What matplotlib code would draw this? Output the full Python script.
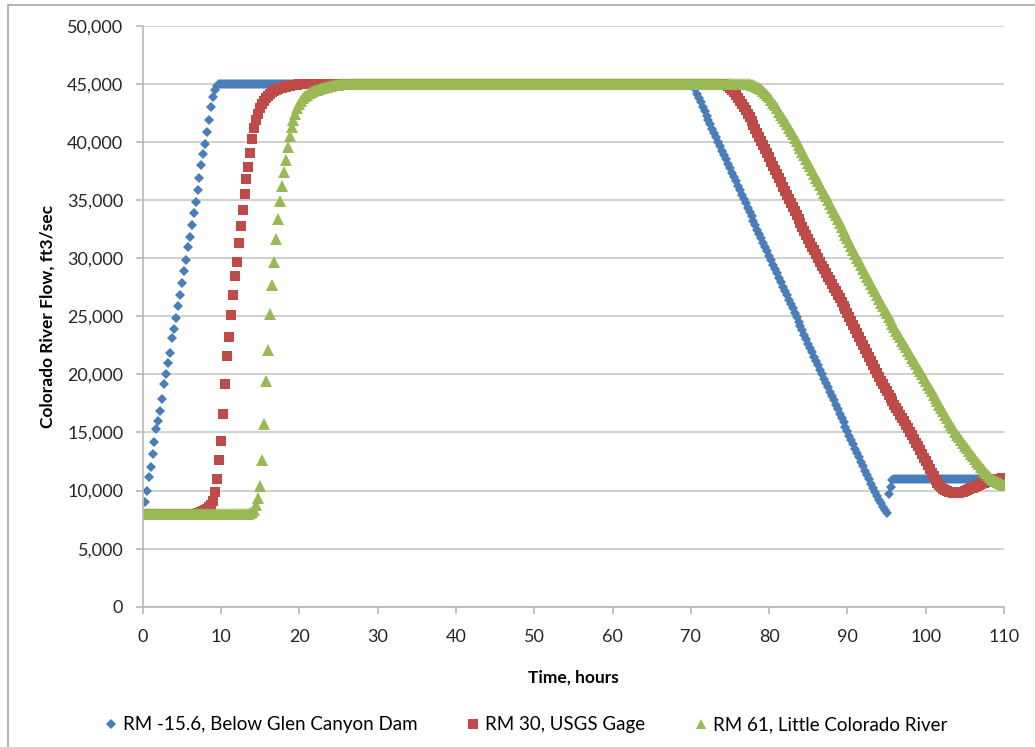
import numpy as np
from matplotlib import pyplot as plt
from matplotlib.lines import Line2D
from matplotlib.ticker import FuncFormatter

# time axis, hours (one reading every 15 minutes)
hours = np.arange(0, 110.25, 0.25)

# RM -15.6, Below Glen Canyon Dam
glen_canyon = (
    [8000]
    + [9000, 10000, 11150, 12000, 13150, 14150, 15300, 16000, 16860, 17870,
       19150, 20010, 21000, 21860, 23150, 23870, 24860, 25870, 26870, 27860,
       28870, 29870, 31010, 31870, 32870, 33870, 34870, 35870, 36870, 38010,
       39010, 39870, 40870, 41870, 43010, 43870, 44500, 44850]
    + [45000] * 242
    + [44900, 44550, 44170, 43790, 43420, 43040, 42660, 42280, 41910, 41530,
       41150, 40770, 40400, 40020, 39640, 39270, 38890, 38510, 38130, 37760,
       37380, 37000, 36620, 36250, 35870, 35490, 35110, 34740, 34360, 33980,
       33600, 33230, 32850, 32470, 32100, 31720, 31340, 30960, 30590, 30210,
       29830, 29450, 29080, 28700, 28320, 27940, 27570, 27190, 26810, 26430,
       26060, 25680, 25300, 24930, 24550, 24170, 23790, 23420, 23040, 22660,
       22280, 21910, 21530, 21150, 20770, 20400, 20020, 19640, 19260, 18890,
       18510, 18130, 17760, 17380, 17000, 16620, 16250, 15870, 15490, 15110,
       14740, 14360, 13980, 13600, 13230, 12850, 12470, 12090, 11720, 11340,
       10960, 10580, 10210, 9850, 9520, 9200, 8900, 8600, 8300, 8050]
    + [9700, 10300, 10900]
    + [11000] * 57
)

# RM 30, USGS Gage
usgs_gage = (
    [8000] * 27
    + [8020, 8050, 8090, 8140, 8210, 8300, 8420, 8570, 8750, 9100,
       9860, 11000, 12660, 14290, 16630, 19150, 21580, 23210, 25150, 26870,
       28450, 29700, 31300, 32800, 34200, 35500, 36800, 37900, 39100, 40300,
       41200, 41900, 42450, 42900, 43250, 43550, 43800, 44000, 44180, 44320,
       44430, 44520, 44590, 44650, 44700, 44750, 44790, 44830, 44860, 44890,
       44920, 44940, 44960, 44975, 44985, 44995]
    + [45000] * 214
    + [44970, 44900, 44800, 44660, 44490, 44290, 44060, 43810, 43560, 43300,
       43040, 42760, 42460, 42150, 41830, 41500, 41160, 40820, 40470, 40120,
       39770, 39410, 39050, 38690, 38330, 37970, 37610, 37250, 36890, 36530,
       36170, 35810, 35450, 35090, 34740, 34400, 34060, 33720, 33380, 33040,
       32700, 32360, 32030, 31690, 31350, 31010, 30680, 30340, 30000, 29680,
       29360, 29050, 28740, 28420, 28110, 27800, 27480, 27170, 26860, 26540,
       26230, 25910, 25600, 25280, 24960, 24620, 24270, 23920, 23570, 23220,
       22870, 22520, 22170, 21820, 21470, 21130, 20780, 20430, 20080, 19750,
       19450, 19150, 18850, 18560, 18270, 17980, 17690, 17400, 17110, 16820,
       16530, 16240, 15950, 15660, 15370, 15080, 14770, 14450, 14130, 13800,
       13480, 13160, 12840, 12510, 12190, 11870, 11550, 11240, 10950, 10680,
       10450, 10270, 10130, 10020, 9940, 9880, 9840, 9820, 9810, 9810,
       9820, 9850, 9900, 9970, 10050, 10120, 10190, 10260, 10330, 10400,
       10470, 10540, 10610, 10680, 10750, 10820, 10880, 10930, 10970, 11000,
       11020, 11030, 11040, 11040]
)

# RM 61, Little Colorado River
little_colorado = (
    [8000] * 54
    + [8020, 8060, 8150, 8350, 8800, 9400, 10400, 12600, 15700, 19400,
       22100, 25200, 27700, 29700, 31700, 33400, 34900, 36200, 37400, 38500,
       39600, 40500, 41300, 41900, 42450, 42950, 43300, 43580, 43780, 43950,
       44090, 44200, 44300, 44380, 44450, 44520, 44580, 44640, 44690, 44730,
       44770, 44810, 44850, 44880, 44910, 44940, 44960, 44975, 44990]
    + [45000] * 206
    + [44990, 44970, 44940, 44900, 44840, 44760, 44660, 44540, 44400, 44240,
       44060, 43860, 43640, 43410, 43160, 42900, 42630, 42360, 42080, 41800,
       41520, 41240, 40950, 40660, 40370, 40080, 39790, 39490, 39180, 38870,
       38550, 38230, 37910, 37590, 37270, 36950, 36630, 36310, 35980, 35660,
       35340, 35010, 34680, 34350, 34020, 33690, 33360, 33030, 32700, 32370,
       32040, 31710, 31380, 31050, 30720, 30390, 30060, 29730, 29400, 29070,
       28750, 28430, 28110, 27790, 27470, 27150, 26830, 26510, 26190, 25880,
       25570, 25260, 24950, 24650, 24350, 24060, 23770, 23480, 23190, 22900,
       22610, 22320, 22030, 21740, 21450, 21160, 20870, 20580, 20290, 20000,
       19710, 19420, 19130, 18840, 18550, 18260, 17970, 17680, 17390, 17100,
       16810, 16520, 16230, 15940, 15650, 15360, 15080, 14820, 14570, 14330,
       14090, 13860, 13630, 13400, 13170, 12940, 12710, 12480, 12260, 12040,
       11840, 11650, 11470, 11310, 11160, 11030, 10920, 10820, 10730, 10650,
       10580, 10520]
)

labels = ["RM -15.6, Below Glen Canyon Dam", "RM 30, USGS Gage", "RM 61, Little Colorado River"]
colors = ["#4A7EBB", "#BE4B48", "#98B954"]

plt.rcParams["font.family"] = ["Lato", "DejaVu Sans"]
plt.rcParams["font.size"] = 12

fig = plt.figure(figsize=(10.35, 7.47), dpi=100)
ax = fig.add_axes([0.1379, 0.1878, 0.8322, 0.7774])

ax.plot(hours, glen_canyon, linestyle="none", marker="D", ms=5.6, color=colors[0], mew=0)
ax.plot(hours, usgs_gage, linestyle="none", marker="s", ms=7.6, color=colors[1], mew=0)
ax.plot(hours, little_colorado, linestyle="none", marker="^", ms=8.6, color=colors[2], mew=0)

ax.set_xlim(0, 110)
ax.set_ylim(0, 50000)
ax.set_xticks(range(0, 111, 10))
ax.set_yticks(range(0, 50001, 5000))
ax.yaxis.set_major_formatter(FuncFormatter(lambda v, p: f"{int(v):,}"))
ax.yaxis.grid(True, color="#C4C4C4", lw=1.1)
ax.set_axisbelow(True)
for side in ("top", "right"):
    ax.spines[side].set_visible(False)
for side in ("left", "bottom"):
    ax.spines[side].set_color("#B8B8B8")
    ax.spines[side].set_linewidth(1.2)
ax.tick_params(axis="both", direction="out", length=5, width=1.2, color="#B8B8B8",
               labelsize=13, labelcolor="#262626")
ax.tick_params(axis="y", pad=9)
ax.tick_params(axis="x", pad=11)

ax.set_xlabel("Time, hours", fontsize=12.5, fontweight="bold", labelpad=18)
ax.set_ylabel("Colorado River Flow, ft3/sec", fontsize=12.5, fontweight="bold", labelpad=8)

handles = [
    Line2D([], [], linestyle="none", marker="D", ms=4.6, color=colors[0], mew=0),
    Line2D([], [], linestyle="none", marker="s", ms=7.0, color=colors[1], mew=0),
    Line2D([], [], linestyle="none", marker="^", ms=7.0, color=colors[2], mew=0),
]
fig.legend(handles, labels, loc="center", bbox_to_anchor=(0.508, 0.030), ncol=3,
           frameon=False, fontsize=13.5, handlelength=0.7, handletextpad=0.3,
           columnspacing=2.6)

# chart area border
fig.add_artist(plt.Rectangle((8 / 1035, -0.05), 1.1, 1 - 5 / 747 + 0.05,
                             transform=fig.transFigure, fill=False,
                             edgecolor="#A6A6A6", lw=1.2))

fig.savefig("out.png", dpi=100)
